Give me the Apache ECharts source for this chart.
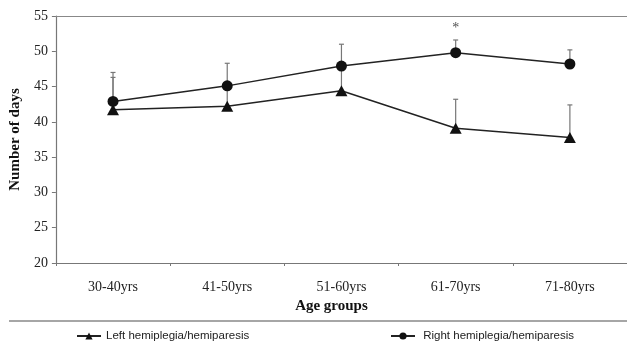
<!DOCTYPE html>
<html><head><meta charset="utf-8">
<script src="https://cdn.jsdelivr.net/npm/echarts@6/dist/echarts.min.js"></script>
<style>html,body{margin:0;padding:0;background:#fff}#c{width:627px;height:344px}</style>
</head><body><div id="c"></div>
<script>
var categories = ['30-40yrs','41-50yrs','51-60yrs','61-70yrs','71-80yrs'];
var leftValues = [41.7, 42.2, 44.4, 39.1, 37.8];
var rightValues = [42.9, 45.1, 47.9, 49.8, 48.2];
var leftUpper = [46.3, 44.8, 48.0, 43.2, 42.4];
var rightUpper = [47.0, 48.3, 51.0, 51.6, 50.2];
var starValues = [null, null, null, 53.3, null];
var yTicks = [20, 25, 30, 35, 40, 45, 50, 55];

var serif = '"Liberation Serif","Times New Roman",serif';
var sans = '"Liberation Sans",Arial,sans-serif';

function errSeries(upper, base) {
  return {
    type: 'custom', silent: true, z: 1,
    data: categories.map(function (c, i) { return [i, base[i], upper[i]]; }),
    renderItem: function (params, api) {
      var p0 = api.coord([api.value(0), api.value(1)]);
      var p1 = api.coord([api.value(0), api.value(2)]);
      var st = { stroke: '#777', lineWidth: 1.2 };
      return { type: 'group', children: [
        { type: 'line', shape: { x1: p0[0], y1: p0[1], x2: p1[0], y2: p1[1] }, style: st },
        { type: 'line', shape: { x1: p1[0] - 2.5, y1: p1[1], x2: p1[0] + 2.5, y2: p1[1] }, style: st }
      ]};
    }
  };
}

var chart = echarts.init(document.getElementById('c'));
chart.setOption({
  animation: false,
  backgroundColor: '#fff',
  grid: { left: 55, top: 16, right: 0, bottom: 81 },
  legend: [
    { data: ['Left hemiplegia/hemiparesis'], left: 71, top: 325, itemWidth: 24, itemHeight: 9,
      textStyle: { fontFamily: sans, fontSize: 11.5, color: '#222' } },
    { data: ['Right hemiplegia/hemiparesis'], left: 385, top: 325, itemWidth: 24, itemHeight: 9,
      formatter: function (n) { return ' ' + n; },
      textStyle: { fontFamily: sans, fontSize: 11.5, color: '#222' } }
  ],
  graphic: [{ type: 'line', shape: { x1: 9, y1: 321, x2: 627, y2: 321 }, style: { stroke: '#888', lineWidth: 1.5 } }],
  xAxis: [{
    type: 'category', data: categories, boundaryGap: true,
    name: 'Age groups', nameLocation: 'middle', nameGap: 33,
    nameTextStyle: { fontFamily: serif, fontWeight: 'bold', fontSize: 15, color: '#111', padding: [0, 20, 0, 0] },
    axisLine: { lineStyle: { color: '#777', width: 1.2 } },
    axisTick: { show: true, length: 3, inside: false, lineStyle: { color: '#777' } },
    axisLabel: { fontFamily: serif, fontSize: 14, color: '#222', margin: 17 }
  }, {
    type: 'category', data: categories, position: 'top',
    axisLine: { show: true, lineStyle: { color: '#888', width: 1.2 } },
    axisTick: { show: false }, axisLabel: { show: false }
  }],
  yAxis: {
    type: 'value', min: 20, max: 55, interval: 5,
    name: 'Number of days', nameLocation: 'middle', nameGap: 31,
    nameTextStyle: { fontFamily: serif, fontWeight: 'bold', fontSize: 15, color: '#111' },
    axisLine: { show: true, lineStyle: { color: '#777', width: 1.2 } },
    axisTick: { show: true, length: 4, lineStyle: { color: '#777' } },
    axisLabel: { fontFamily: serif, fontSize: 14, color: '#222', margin: 8,
      formatter: function (v) { return yTicks.indexOf(v) >= 0 ? String(v) : ''; } },
    splitLine: { show: false }
  },
  series: [
    errSeries(leftUpper, leftValues),
    errSeries(rightUpper, rightValues),
    { name: 'Left hemiplegia/hemiparesis', type: 'line', data: leftValues, z: 3,
      symbol: 'triangle', symbolSize: [12, 11], itemStyle: { color: '#111' },
      lineStyle: { color: '#222', width: 1.5 } },
    { name: 'Right hemiplegia/hemiparesis', type: 'line', data: rightValues, z: 4,
      symbol: 'circle', symbolSize: 11, itemStyle: { color: '#111' },
      lineStyle: { color: '#222', width: 1.5 } },
    { name: 'star', type: 'scatter', data: starValues, symbolSize: 0, silent: true,
      label: { show: true, position: 'inside', formatter: '*', fontFamily: serif, fontSize: 14, color: '#222' } }
  ]
});
</script></body></html>
